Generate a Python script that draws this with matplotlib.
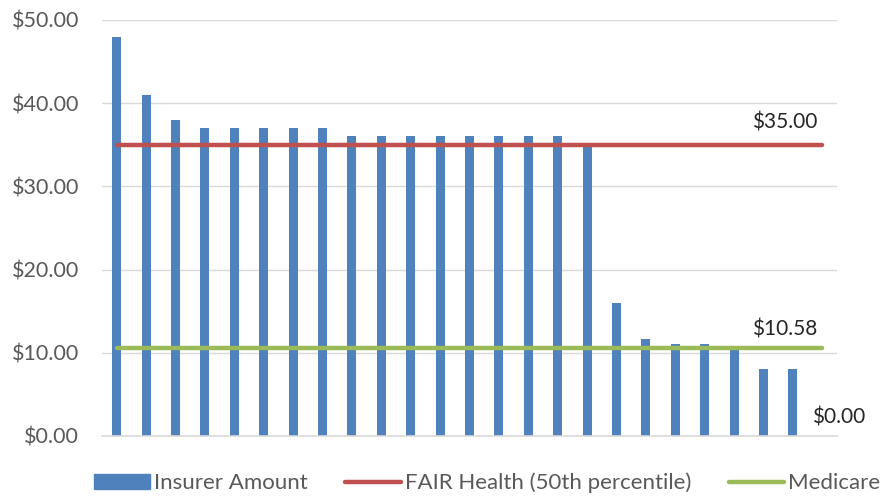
import matplotlib.pyplot as plt
import numpy as np
from matplotlib.patches import Patch
from matplotlib.lines import Line2D

plt.rcParams['font.family'] = ['Lato', 'DejaVu Sans']

# Insurer amounts per claim, sorted high to low
insurer = [48, 41, 38, 37, 37, 37, 37, 37, 36, 36, 36, 36, 36, 36, 36, 36,
           35, 16, 11.6, 11, 11, 10.58, 8, 8, 0]
fair_health = 35.00
medicare = 10.58
y_ticks = [0, 10, 20, 30, 40, 50]

BLUE = '#4F81BD'
RED = '#C0504D'
GREEN = '#9BBB59'
GREY = '#595959'

x = np.arange(len(insurer))

fig = plt.figure(figsize=(8.81, 4.97), dpi=100)
ax = fig.add_axes([102 / 881, 1 - 436 / 497, 735 / 881, 416 / 497])

ax.bar(x, insurer, width=0.31, color=BLUE, zorder=2)
ax.plot(x, [fair_health] * len(x), color=RED, lw=3.2, solid_capstyle='round', zorder=3)
ax.plot(x, [medicare] * len(x), color=GREEN, lw=3.2, solid_capstyle='round', zorder=3)

# data labels at the last point of each series
lbl = dict(textcoords='offset pixels', ha='center', va='center', fontsize=15, color='#262626')
ax.annotate(f'${fair_health:.2f}', (x[-1], fair_health), xytext=(-38, 22), **lbl)
ax.annotate(f'${medicare:.2f}', (x[-1], medicare), xytext=(-38, 18), **lbl)
ax.annotate(f'${insurer[-1]:.2f}', (x[-1], insurer[-1]), xytext=(16, 18), **lbl)

ax.set_xlim(-0.5, len(insurer) - 0.5)
ax.set_ylim(0, 50)
ax.set_yticks(y_ticks)
ax.set_yticklabels([f'${v:.2f}' for v in y_ticks], fontsize=15.5, color=GREY)
ax.set_xticks([])
ax.tick_params(axis='y', length=0, pad=16.5)
ax.grid(axis='y', color='#d9d9d9', lw=1, zorder=0)
for s in ['top', 'right', 'left']:
    ax.spines[s].set_visible(False)
ax.spines['bottom'].set_color('#d9d9d9')
ax.spines['bottom'].set_linewidth(1.2)

handles = [Patch(color=BLUE, label='Insurer Amount'),
           Line2D([], [], color=RED, lw=3.2, solid_capstyle='round', label='FAIR Health (50th percentile)'),
           Line2D([], [], color=GREEN, lw=3.2, solid_capstyle='round', label='Medicare')]
leg = fig.legend(handles=handles, loc='center', bbox_to_anchor=(0.553, 0.028), ncol=3,
                 frameon=False, fontsize=16, handlelength=2.5, handleheight=0.6,
                 handletextpad=0.18, columnspacing=1.7, borderaxespad=0)
for t in leg.get_texts():
    t.set_color(GREY)

fig.savefig('out.png', dpi=100)
